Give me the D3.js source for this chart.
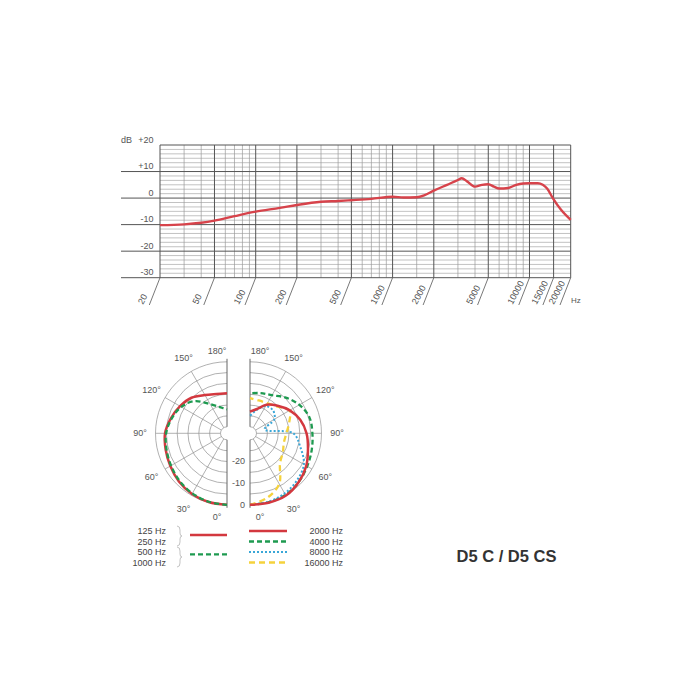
<!DOCTYPE html>
<html><head><meta charset="utf-8">
<script src="https://cdn.jsdelivr.net/npm/d3@7"></script>
<style>body{margin:0;background:#fff;} svg{display:block;font-family:"Liberation Sans",Arial,sans-serif;}</style>
</head><body><svg id="c" width="700" height="700"></svg>
<script>
// ---------- Frequency response data ----------
const freqHz = [20,30,40,50,70,100,150,200,300,400,500,700,1000,1200,1500,1700,2000,2500,3000,3200,3500,4000,4500,5000,5500,6000,7000,8000,9000,10000,11500,12500,13500,14800,17000,20000];
const responseDb = [-10.2,-9.9,-9.3,-8.5,-6.8,-5.1,-3.7,-2.6,-1.4,-1.1,-0.8,-0.3,0.5,0.2,0.3,1.0,2.8,5.0,6.8,7.5,6.3,4.3,5.0,5.2,4.3,3.6,3.8,5.0,5.5,5.6,5.6,5.0,3.5,0.0,-4.4,-8.2];
const freqTickLabels = [20,50,100,200,500,1000,2000,5000,10000,15000,20000];
const freqMinorLines = [30,40,60,70,80,90,150,300,400,600,700,800,900,1500,3000,4000,6000,7000,8000,9000];
const dbTickValues = [20,10,0,-10,-20,-30];
const dbTickLabels = ["+20","+10","0","-10","-20","-30"];

// ---------- Polar data (dB at angle, 0° = front) ----------
const polarAngles = [0,15,30,45,60,75,90,105,120,135,150,165,180];
const low125_250 = [0,-0.2,-0.7,-1.6,-2.8,-3.7,-4.4,-6.2,-8,-9.8,-12.6,-14.2,-14.5];
const low500_1000 = [0,-0.3,-1,-2,-3.2,-4.1,-4.9,-6.6,-8.6,-12,-17.5,-20.5,-22];
const hi2000 = [0,0.2,0.2,-1.2,-3,-5.3,-6.9,-9,-11.8,-15,-17.8,-21.5,-23];
const hi4000 = [0,0,-0.2,-1.2,-2.5,-3.5,-4.2,-4.6,-6.7,-9.7,-12.7,-13.8,-14.5];
const hi8000 = [0,-0.3,-1,-2.3,-4.3,-9,-13,-26,-20,-18,-18.5,-22,-25];
const hi16000 = [0,-2.2,-6,-13.4,-15.5,-16.8,-16.2,-14.3,-12,-15.5,-17,-17.3,-16.8];
const polarRingDb = [0,-5,-10,-15,-20,-25,-30];
const polarRingLabelDb = [0,-10,-20];
const polarSpokes = [30,60,90,120,150];
const angleLabels = [0,30,60,90,120,150,180];
const legendLeft = ["125 Hz","250 Hz","500 Hz","1000 Hz"];
const legendRight = ["2000 Hz","4000 Hz","8000 Hz","16000 Hz"];
const titleText = "D5 C / D5 CS";

const RED="#d3383f", GREEN="#1e9a50", BLUE="#3aa7d8", YELLOW="#f5d23c";
const svg = d3.select("#c");

// ================= Frequency response chart =================
const x = d3.scaleLog().domain([20,20000]).range([160,570.7]);
const y = d3.scaleLinear().domain([-30,20]).range([277.7,145]);
const gTop = svg.append("g");

const minorDb = d3.range(-30,20.01,10/6).filter(v => Math.abs(v/10 - Math.round(v/10))>0.01);
gTop.selectAll(".hmin").data(minorDb).join("line")
  .attr("x1",x(20)).attr("x2",x(20000)).attr("y1",d=>y(d)).attr("y2",d=>y(d))
  .attr("stroke","#a8a8a8").attr("stroke-width",0.7);
gTop.selectAll(".vmin").data(freqMinorLines).join("line")
  .attr("x1",d=>x(d)).attr("x2",d=>x(d)).attr("y1",y(20)).attr("y2",y(-30))
  .attr("stroke","#9a9a9a").attr("stroke-width",0.7);
gTop.selectAll(".hmaj").data(dbTickValues).join("line")
  .attr("x1",d=> d===20 ? x(20) : 121).attr("x2",x(20000)).attr("y1",d=>y(d)).attr("y2",d=>y(d))
  .attr("stroke","#555").attr("stroke-width",1);
gTop.selectAll(".vmaj").data(freqTickLabels).join("line")
  .attr("x1",d=>x(d)).attr("x2",d=>x(d)).attr("y1",y(20)).attr("y2",y(-30))
  .attr("stroke","#555").attr("stroke-width",1);
gTop.selectAll(".slant").data(freqTickLabels).join("line")
  .attr("x1",d=>x(d)).attr("x2",d=>x(d)-10.7).attr("y1",y(-30)).attr("y2",y(-30)+27.3)
  .attr("stroke","#555").attr("stroke-width",0.8);
gTop.selectAll(".xl").data(freqTickLabels).join("text")
  .attr("transform",d=>`translate(${x(d)-17},305) rotate(-62)`)
  .attr("font-size",9).attr("fill","#555").text(d=>d);
gTop.append("text").attr("x",571).attr("y",303).attr("font-size",8).attr("fill","#555").text("Hz");
gTop.selectAll(".yl").data(dbTickValues).join("text")
  .attr("x",153.5).attr("y",d=>y(d)-2.5).attr("text-anchor","end")
  .attr("font-size",9).attr("fill","#555").text((d,i)=>dbTickLabels[i]);
gTop.append("text").attr("x",121).attr("y",y(20)-2.5).attr("font-size",9).attr("fill","#555").text("dB");

const respLine = d3.line().x((d,i)=>x(freqHz[i])).y(d=>y(d)).curve(d3.curveMonotoneX);
gTop.append("path").attr("d",respLine(responseDb)).attr("fill","none")
  .attr("stroke","#d7434b").attr("stroke-width",2.4).attr("stroke-linejoin","round");

// ================= Polar plots =================
const cy = 433.3, cxL = 227, cxR = 250;
const r = d3.scaleLinear().domain([-33,0]).range([0,71.5]);
const R = r(0), rIn = r(-30);
const pol = svg.append("g");

function halfGrid(cx, side){ // side = 1 right, -1 left
  const g = pol.append("g");
  g.selectAll("path").data(polarRingDb).join("path")
    .attr("d",d=>{const rr=r(d); return `M${cx},${cy-rr} A${rr},${rr} 0 0 ${side>0?1:0} ${cx},${cy+rr}`;})
    .attr("fill","none").attr("stroke","#8f8f8f").attr("stroke-width",0.7);
  g.selectAll("line.sp").data(polarSpokes).join("line")
    .attr("x1",d=>cx+side*rIn*Math.sin(d*Math.PI/180)).attr("y1",d=>cy+rIn*Math.cos(d*Math.PI/180))
    .attr("x2",d=>cx+side*R*Math.sin(d*Math.PI/180)).attr("y2",d=>cy+R*Math.cos(d*Math.PI/180))
    .attr("stroke","#8f8f8f").attr("stroke-width",0.7);
  g.append("line").attr("x1",cx).attr("x2",cx).attr("y1",cy-R-3).attr("y2",cy-rIn).attr("stroke","#666").attr("stroke-width",1);
  g.append("line").attr("x1",cx).attr("x2",cx).attr("y1",cy+rIn).attr("y2",cy+R+3).attr("stroke","#666").attr("stroke-width",1);
  g.selectAll("text").data(angleLabels).join("text")
    .attr("x",d=>{ if(d===0||d===180) return cx+side*10; return cx+side*87*Math.sin(d*Math.PI/180);})
    .attr("y",d=>{ if(d===0) return cy+84+3; if(d===180) return cy-82+3; return cy+87*Math.cos(d*Math.PI/180)+3;})
    .attr("text-anchor","middle").attr("font-size",9).attr("fill","#555").text(d=>d+"°");
}
halfGrid(cxL,-1);
halfGrid(cxR,1);

pol.selectAll("text.rl").data(polarRingLabelDb).join("text")
  .attr("x",245).attr("y",d=>cy+r(d)+3).attr("text-anchor","end")
  .attr("font-size",9).attr("fill","#555").text(d=>d);

function polarPath(cx, side, vals, color, width, dash){
  const line = d3.lineRadial()
    .angle((d,i)=> side>0 ? Math.PI - polarAngles[i]*Math.PI/180 : Math.PI + polarAngles[i]*Math.PI/180)
    .radius(d=>r(d)).curve(d3.curveCatmullRom);
  pol.append("path").attr("transform",`translate(${cx},${cy})`).attr("d",line(vals))
    .attr("fill","none").attr("stroke",color).attr("stroke-width",width)
    .attr("stroke-dasharray",dash||null);
}
polarPath(cxL,-1,low125_250,RED,2.5);
polarPath(cxL,-1,low500_1000,GREEN,2.3,"5,3");
polarPath(cxR,1,hi4000,GREEN,2.3,"5,3");
polarPath(cxR,1,hi8000,BLUE,2,"2,2");
polarPath(cxR,1,hi16000,YELLOW,2.3,"6,4");
polarPath(cxR,1,hi2000,RED,2.5);

// ================= Legend =================
const leg = svg.append("g");
const rowsY = [531,541.5,552,562.5];
leg.selectAll("text.ll").data(legendLeft).join("text")
  .attr("x",166).attr("y",(d,i)=>rowsY[i]+3).attr("text-anchor","end")
  .attr("font-size",9).attr("fill","#444").text(d=>d);
leg.selectAll("text.lr").data(legendRight).join("text")
  .attr("x",343).attr("y",(d,i)=>rowsY[i]+3).attr("text-anchor","end")
  .attr("font-size",9).attr("fill","#444").text(d=>d);
[[526,546],[547,567]].forEach(([a,b])=>{
  const m=(a+b)/2;
  leg.append("path").attr("d",`M177,${a} Q180,${a} 180,${a+4} L180,${m-3} Q180,${m} 182,${m} Q180,${m} 180,${m+3} L180,${b-4} Q180,${b} 177,${b}`)
    .attr("fill","none").attr("stroke","#aaa").attr("stroke-width",0.7);
});
function legLine(x1,x2,yy,color,w,dash){
  leg.append("line").attr("x1",x1).attr("x2",x2).attr("y1",yy).attr("y2",yy)
    .attr("stroke",color).attr("stroke-width",w).attr("stroke-dasharray",dash||null);
}
legLine(190,227,535,RED,2.5);
legLine(190,227,554.3,GREEN,2.3,"5,3");
legLine(249,287,rowsY[0],RED,2.5);
legLine(249,287,rowsY[1],GREEN,2.3,"5,3");
legLine(249,287,rowsY[2],BLUE,2,"2,2");
legLine(249,287,rowsY[3],YELLOW,2.3,"6,4");

svg.append("text").attr("x",456.5).attr("y",561.5).attr("font-size",16.5).attr("font-weight","bold")
  .attr("fill","#333").text(titleText);
</script></body></html>
